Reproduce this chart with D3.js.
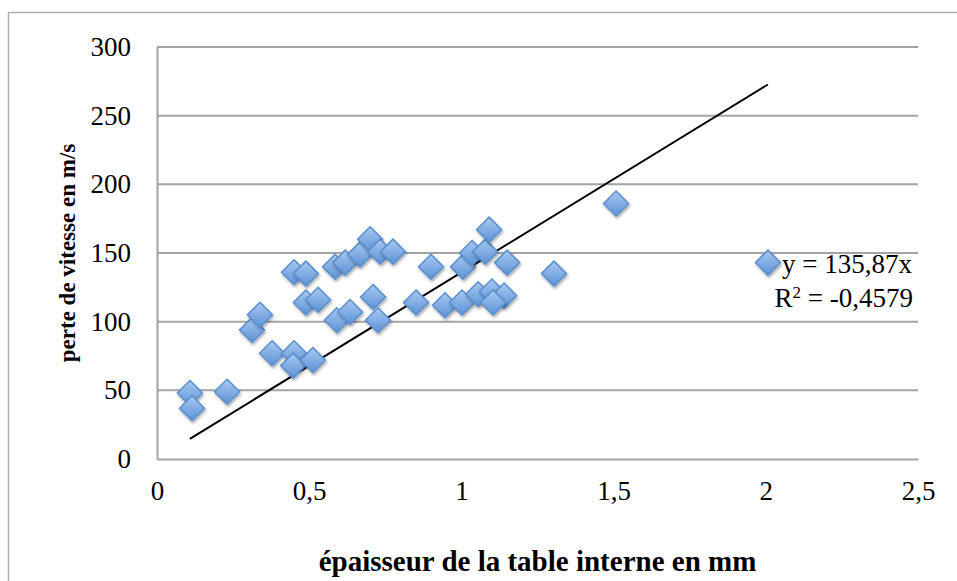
<!DOCTYPE html>
<html lang="fr">
<head>
<meta charset="UTF-8">
<title>perte de vitesse</title>
<script src="https://d3js.org/d3.v7.min.js"></script>
<style>
  body { margin: 0; background: #fff; }
  svg text { font-family: "Liberation Serif", "Times New Roman", serif; fill: #000; }
</style>
</head>
<body>
<div id="chart"></div>
<script>
// épaisseur de la table interne (mm)
var epaisseur = [0.108, 0.115, 0.230, 0.312, 0.338, 0.378, 0.450, 0.447, 0.512, 0.450,
                 0.489, 0.489, 0.529, 0.591, 0.634, 0.585, 0.618, 0.667, 0.700, 0.733,
                 0.775, 0.710, 0.726, 0.851, 0.900, 0.946, 1.002, 1.005, 1.035, 1.078,
                 1.091, 1.055, 1.100, 1.140, 1.104, 1.150, 1.304, 1.508, 2.007];
// perte de vitesse (m/s)
var perte = [48, 37, 49, 94, 105, 77, 77, 68, 72, 136,
             135, 114, 116, 101, 107, 140, 143, 149, 160, 151,
             151, 118, 101, 114, 140, 112, 114, 140, 150, 151,
             167, 120, 122, 119, 114, 143, 135, 186, 143];
var xTicks = [0, 0.5, 1, 1.5, 2, 2.5];
var yTicks = [0, 50, 100, 150, 200, 250, 300];
var slope = 135.87;
var eqLines = ["y = 135,87x", "R² = -0,4579"];

var W = 957, H = 581;
var m = { left: 157, top: 47, right: 918, bottom: 459 };
var serif = 'Liberation Serif, serif';

var svg = d3.select('#chart').append('svg')
    .attr('width', W)
    .attr('height', H);

var defs = svg.append('defs');
var grad = defs.append('linearGradient')
    .attr('id', 'mk').attr('x1', 0).attr('y1', 0).attr('x2', 0).attr('y2', 1);
grad.append('stop').attr('offset', '0%').attr('stop-color', '#a9c9f0');
grad.append('stop').attr('offset', '100%').attr('stop-color', '#5b92d6');
var sh = defs.append('filter').attr('id', 'shadow')
    .attr('x', '-50%').attr('y', '-50%').attr('width', '200%').attr('height', '200%');
sh.append('feDropShadow').attr('dx', 1).attr('dy', 2).attr('stdDeviation', 1.6)
    .attr('flood-color', '#000').attr('flood-opacity', 0.35);

// cadre extérieur
svg.append('rect')
    .attr('x', 8.5).attr('y', 12.5)
    .attr('width', W).attr('height', H)
    .attr('fill', 'none').attr('stroke', '#b0b0b0').attr('stroke-width', 1.5);

var x = d3.scaleLinear().domain([0, 2.5]).range([m.left, m.right]);
var y = d3.scaleLinear().domain([0, 300]).range([m.bottom, m.top]);

// grille
svg.selectAll('.grid')
    .data(yTicks.filter(function (d) { return d > 0; }))
    .enter().append('line')
    .attr('x1', m.left).attr('x2', m.right)
    .attr('y1', function (d) { return y(d); })
    .attr('y2', function (d) { return y(d); })
    .attr('stroke', '#a3a3a3').attr('stroke-width', 2);

// axes
var yAxis = svg.append('g')
    .attr('transform', 'translate(' + m.left + ',0)')
    .call(d3.axisLeft(y).tickValues(yTicks).tickSize(0).tickPadding(26).tickFormat(d3.format('d')));
var xAxis = svg.append('g')
    .attr('transform', 'translate(0,' + m.bottom + ')')
    .call(d3.axisBottom(x).tickValues(xTicks).tickSize(0).tickPadding(22)
        .tickFormat(function (d) { return String(d).replace('.', ','); }));
[xAxis, yAxis].forEach(function (a) {
    a.attr('font-family', null).attr('font-size', null);
    a.select('.domain').attr('stroke', '#a3a3a3').attr('stroke-width', 2);
    a.selectAll('text')
        .attr('font-family', serif)
        .style('font-family', serif)
        .style('font-size', '27px');
});

// courbe de tendance
var ext = d3.extent(epaisseur);
svg.append('line')
    .attr('x1', x(ext[0])).attr('y1', y(slope * ext[0]))
    .attr('x2', x(ext[1])).attr('y2', y(slope * ext[1]))
    .attr('stroke', '#000').attr('stroke-width', 2);

// points
var pts = epaisseur.map(function (d, i) { return [d, perte[i]]; });
var r = 12.5;
svg.selectAll('.pt')
    .data(pts)
    .enter().append('path')
    .attr('class', 'pt')
    .attr('d', 'M0,' + (-r) + 'L' + r + ',0L0,' + r + 'L' + (-r) + ',0Z')
    .attr('transform', function (d) { return 'translate(' + x(d[0]) + ',' + y(d[1]) + ')'; })
    .attr('fill', 'url(#mk)')
    .attr('stroke', '#5a8fcf').attr('stroke-width', 1.5)
    .attr('filter', 'url(#shadow)');

// équation
svg.append('text')
    .attr('x', 912).attr('y', 273)
    .attr('text-anchor', 'end')
    .style('font-size', '27px')
    .text(eqLines[0]);
var t2 = svg.append('text')
    .attr('x', 913).attr('y', 307)
    .attr('text-anchor', 'end')
    .style('font-size', '27px');
t2.append('tspan').text('R');
t2.append('tspan').attr('dy', -9).style('font-size', '17px').text('2');
t2.append('tspan').attr('dy', 9).text(eqLines[1].slice(2));

// titres des axes
svg.append('text')
    .attr('x', (m.left + m.right) / 2).attr('y', 571)
    .attr('text-anchor', 'middle')
    .style('font-size', '29px').style('font-weight', 'bold')
    .text('épaisseur de la table interne en mm');
svg.append('text')
    .attr('transform', 'translate(75,' + ((m.top + m.bottom) / 2) + ') rotate(-90)')
    .attr('text-anchor', 'middle')
    .style('font-size', '23px').style('font-weight', 'bold')
    .text('perte de vitesse en m/s');
</script>
</body>
</html>
